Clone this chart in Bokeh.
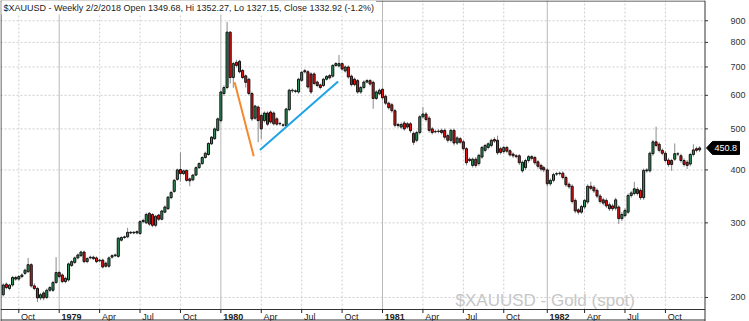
import math
import pandas as pd
from bokeh.plotting import figure
from bokeh.models import Range1d, Label, ColumnDataSource, Span
from bokeh.embed import file_html
from bokeh.resources import INLINE
from bokeh.core.properties import value, field

# ---------------- data (weekly bars) ----------------
first_week = "1978-09-01"
opens = [203, 215, 210, 214, 223, 221, 224, 228, 230, 239, 213, 210, 199.5, 205, 200, 208, 208, 217,
         229, 226, 218, 220, 238, 242, 248, 251, 256, 243, 248, 249, 248,
         244, 245, 241, 237, 249, 251, 250, 273, 277, 278, 285, 284, 284,
         283, 302, 300, 316, 314, 296, 313, 306, 318, 324, 344, 356, 380,
         401, 392, 399, 381, 379, 389, 405, 414, 428, 435, 461, 474, 496,
         523, 606, 626, 846, 661, 718, 722, 687, 667, 655, 606, 530, 563,
         538, 523, 545, 548, 545, 528, 515, 510, 509, 555, 617, 613, 611,
         651, 686, 682, 674, 674, 645, 635, 633, 655, 668, 666, 706, 704,
         713, 685, 700, 666, 655, 650, 611, 626, 645, 650, 644, 590, 605,
         620, 597, 575, 570, 552, 512, 505, 516, 514, 514, 488, 470, 490,
         534, 542, 530, 500, 493, 493, 496, 496, 482, 470, 496, 463, 474,
         466, 449, 424, 410, 424, 414, 429, 445, 452, 457, 472, 470, 449,
         442, 452, 444, 436, 432, 432, 398, 405, 421, 430, 428, 418, 410,
         405, 400, 371, 378, 391, 392, 393, 384, 370, 366, 339, 322, 318,
         327, 336, 366, 364, 358, 347, 340, 339, 331, 329, 325, 327, 307,
         312, 318, 348, 352, 360, 358, 344, 398, 398, 437, 466, 460, 445,
         438, 422, 421, 424, 436, 432, 421, 417, 413, 435, 449, 446]
highs = [216, 217, 215, 225, 225, 226, 228, 234, 248, 241, 216, 212, 205, 207, 210, 213, 219, 249,
         231, 228, 224, 242, 245, 250, 254, 258, 258, 249, 251, 251, 250,
         247, 247, 243, 250, 253, 254, 278, 279, 280, 292, 287, 287, 288,
         304, 307, 317, 318, 316, 313, 315, 322, 330, 347, 357, 381, 403,
         440, 401, 401, 384, 391, 408, 417, 431, 442, 465, 481, 504, 532,
         615, 634, 895, 850, 720, 728, 728, 692, 672, 660, 612, 570, 568,
         543, 550, 550, 553, 550, 533, 520, 515, 561, 622, 623, 620, 660,
         686, 693, 688, 680, 680, 650, 640, 660, 670, 674, 711, 719, 747,
         718, 706, 706, 672, 661, 656, 632, 651, 656, 656, 650, 617, 623,
         626, 603, 580, 576, 558, 517, 518, 522, 519, 519, 493, 495, 539,
         563, 548, 536, 505, 498, 499, 501, 501, 487, 501, 501, 481, 479,
         471, 453, 428, 428, 429, 437, 456, 461, 465, 474, 478, 482, 454,
         456, 456, 448, 440, 436, 436, 421, 425, 434, 434, 432, 422, 414,
         409, 404, 382, 394, 396, 397, 397, 388, 374, 370, 343, 325, 331,
         342, 370, 375, 368, 362, 351, 344, 343, 335, 333, 344, 330, 318,
         325, 352, 357, 375, 364, 362, 403, 404, 442, 471, 506, 465, 450,
         443, 427, 425, 462, 441, 437, 426, 422, 439, 460, 454, 455]
lows = [201, 209, 208, 212, 219, 219, 222, 226, 229, 211, 208, 195, 197, 197, 198, 206, 206, 215,
        222, 216, 216, 218, 236, 240, 246, 249, 241, 241, 246, 245, 241,
        242, 234, 235, 235, 247, 249, 248, 271, 275, 276, 282, 282, 282,
        281, 299, 298, 295, 293, 293, 303, 304, 316, 322, 341, 353, 377,
        375, 389, 375, 366, 376, 387, 402, 411, 425, 432, 458, 471, 493,
        518, 598, 620, 640, 625, 698, 676, 655, 626, 600, 522, 525, 465,
        473, 518, 508, 514, 509, 508, 509, 505, 505, 550, 608, 607, 605,
        645, 676, 622, 605, 634, 627, 620, 628, 650, 654, 660, 700, 698,
        686, 679, 657, 630, 630, 605, 605, 620, 640, 632, 558, 585, 600,
        586, 569, 555, 546, 504, 503, 500, 495, 500, 489, 458, 465, 485,
        528, 520, 490, 485, 488, 488, 485, 472, 464, 465, 457, 458, 460,
        444, 410, 417, 405, 405, 409, 425, 440, 447, 452, 463, 434, 435,
        437, 438, 430, 427, 426, 411, 394, 400, 416, 421, 411, 403, 397,
        395, 366, 367, 374, 387, 388, 380, 365, 361, 333, 316, 314, 315,
        323, 332, 358, 353, 343, 333, 330, 325, 320, 320, 321, 298, 303,
        309, 315, 344, 348, 348, 340, 340, 394, 394, 432, 452, 440, 433,
        416, 407, 398, 420, 431, 416, 407, 402, 408, 430, 440, 441]
closes = [214, 211, 214, 223, 221, 224, 226, 232, 239, 213, 210, 199.5, 203, 199.5, 208, 211, 217, 229,
          224, 218, 222, 240, 243, 248, 252, 256, 243, 247, 249, 247, 243,
          245, 236, 237, 248, 251, 252, 276, 277, 278, 285, 284, 285, 286,
          302, 304, 314, 298, 296, 311, 306, 320, 327, 345, 354, 378, 400,
          392, 398, 378, 377, 389, 405, 414, 428, 438, 462, 478, 500, 528,
          611, 626, 846, 661, 713, 706, 682, 661, 644, 606, 528, 566, 523,
          500, 545, 513, 519, 514, 513, 514, 511, 557, 617, 615, 615, 655,
          680, 682, 628, 611, 640, 633, 626, 655, 665, 660, 706, 713, 713,
          692, 700, 663, 636, 636, 611, 626, 645, 650, 638, 590, 611, 617,
          592, 575, 561, 552, 510, 509, 512, 500, 505, 495, 465, 490, 534,
          542, 526, 496, 490, 492, 494, 490, 478, 470, 496, 463, 476, 465,
          449, 416, 421, 424, 410, 433, 452, 457, 461, 470, 468, 439, 440,
          452, 443, 434, 432, 430, 416, 417, 421, 430, 426, 416, 408, 402,
          400, 371, 378, 390, 392, 393, 384, 369, 365, 337, 320, 318, 328,
          339, 366, 362, 357, 347, 337, 334, 329, 324, 324, 340, 307, 314,
          321, 348, 353, 361, 352, 344, 399, 400, 438, 466, 457, 445, 438,
          421, 412, 412, 437, 436.5, 421, 412, 410, 435, 446, 445, 450.8]

tick_labels = ["Oct", "1979", "Apr", "Jul", "Oct", "1980", "Apr", "Jul", "Oct",
               "1981", "Apr", "Jul", "Oct", "1982", "Apr", "Jul", "Oct"]
price_ticks = [200, 300, 400, 500, 600, 700, 800, 900]
price_labels = ["200", "300", "400", "500", "600", "700", "800", "900"]

orange_dates = ["1980-02-04", "1980-03-18"]
orange_prices = [644, 431]
blue_dates = ["1980-04-01", "1980-09-24"]
blue_prices = [446, 647]

title_text = "$XAUUSD - Weekly 2/2/2018 Open 1349.68, Hi 1352.27, Lo 1327.15, Close 1332.92 (-1.2%)"
watermark_text = "$XAUUSD - Gold (spot)"

# ---------------- dates ----------------
dates = []
for d in pd.date_range(first_week, periods=len(closes), freq="7D"):
    # the week of the New Year holiday 1982 is dated on the Thursday before
    dates.append(pd.Timestamp("1981-12-31") if d == pd.Timestamp("1982-01-01") else d)

tick_dates = [d for i, d in enumerate(dates)
              if d.month in (1, 4, 7, 10) and (i == 0 or dates[i - 1].month != d.month)]

# ---------------- layout helpers ----------------
FONT = "Liberation Sans"
W, H = 749, 321
PX_PER_DAY = 0.4441
X_ORIGIN = pd.Timestamp("1978-10-06") - pd.Timedelta(days=18.3 / PX_PER_DAY)
Y_TOP, Y_BOTTOM = 1004.7, 175.5
DAY_MS = 86400000.0
CHART_RIGHT = 704.5      # pixel column of the price scale line
BAND_TOP = 309           # pixel row separating the date band


def x_at(px):
    return X_ORIGIN + pd.Timedelta(days=px / PX_PER_DAY)


def at_px(py):
    """price value found py pixels below the top of the canvas (log scale)"""
    return Y_TOP * (Y_BOTTOM / Y_TOP) ** (py / H)


def px_of(v):
    return H * math.log(Y_TOP / v) / math.log(Y_TOP / Y_BOTTOM)


p = figure(width=W, height=H, x_axis_type="datetime", y_axis_type="log",
           x_axis_location=None, y_axis_location=None,
           x_range=Range1d(x_at(0), x_at(W)), y_range=Range1d(Y_BOTTOM, Y_TOP),
           min_border_left=0, min_border_top=0, min_border_bottom=0, min_border_right=0,
           toolbar_location=None, output_backend="svg")
p.background_fill_color = "white"
p.border_fill_color = "white"
p.outline_line_color = None
p.xgrid.visible = False
p.ygrid.visible = False

xl, xr = x_at(0), x_at(CHART_RIGHT)
band_top = at_px(BAND_TOP)

# horizontal dashed grid
n = len(price_ticks)
p.segment(x0=[xl] * n, y0=price_ticks, x1=[xr] * n, y1=price_ticks,
          line_color="#cfcfcf", line_dash="2 2", line_width=1)

# vertical grid
year_ticks = [d for d in tick_dates if d.month == 1]
quarter_ticks = [d for d in tick_dates if d.month != 1]
p.segment(x0=quarter_ticks, y0=[band_top] * len(quarter_ticks), x1=quarter_ticks,
          y1=[Y_TOP] * len(quarter_ticks), line_color="#cfcfcf", line_dash="2 2", line_width=1)
p.segment(x0=year_ticks, y0=[band_top] * len(year_ticks), x1=year_ticks,
          y1=[Y_TOP] * len(year_ticks), line_color="#b8b8b8", line_width=1)

# watermark
p.add_layout(Label(x=455, y=H - 300, x_units="screen", y_units="screen",
                   text=watermark_text, text_font=FONT, text_font_size="17px",
                   text_color="#c6c6c6", text_baseline="alphabetic", level="underlay"))

# frame lines
p.segment(x0=[xl, xl, xl], y0=[at_px(0.5), band_top, at_px(H - 1.5)],
          x1=[xr, xr, xr], y1=[at_px(0.5), band_top, at_px(H - 1.5)],
          line_color="#333333", line_width=1)
p.segment(x0=[x_at(0.5), x_at(CHART_RIGHT)], y0=[Y_BOTTOM, Y_BOTTOM],
          x1=[x_at(0.5), x_at(CHART_RIGHT)], y1=[Y_TOP, Y_TOP],
          line_color="#333333", line_width=1)

# date band
p.segment(x0=tick_dates, y0=[band_top] * len(tick_dates), x1=tick_dates,
          y1=[at_px(312.5)] * len(tick_dates), line_color="#222222", line_width=1)
label_src = ColumnDataSource(dict(
    x=[d + pd.Timedelta(days=2.3 / PX_PER_DAY) for d in tick_dates],
    y=[at_px(316.8)] * len(tick_dates),
    text=tick_labels,
    style=["bold" if t.isdigit() else "normal" for t in tick_labels]))
p.text(x="x", y="y", text="text", source=label_src, text_font=value(FONT),
       text_font_size="9px", text_font_style=field("style"), text_color="#222222",
       text_baseline="alphabetic", text_align="left")

# price scale on the right
p.segment(x0=[x_at(CHART_RIGHT)] * n, y0=price_ticks, x1=[x_at(CHART_RIGHT + 3)] * n,
          y1=price_ticks, line_color="#333333", line_width=1)
p.text(x=[x_at(730)] * n, y=price_ticks, text=price_labels, text_font=value(FONT),
       text_font_size="9px", text_color="#333333", text_baseline="middle", text_align="left")

# candles
up = [c >= o for o, c in zip(opens, closes)]
src = ColumnDataSource(dict(
    date=dates, open=opens, high=highs, low=lows, close=closes,
    top=[max(o, c) for o, c in zip(opens, closes)],
    bottom=[min(o, c) for o, c in zip(opens, closes)],
    color=["#2f9a60" if u else "#f01010" for u in up]))
p.segment(x0="date", y0="low", x1="date", y1="high", source=src,
          line_color="#8a8a8a", line_width=1)
p.vbar(x="date", width=4.6 * DAY_MS, top="top", bottom="bottom", source=src,
       fill_color="color", line_color="#111111", line_width=1)

# trend lines
p.line(x=[pd.Timestamp(d) for d in orange_dates], y=orange_prices, line_color="#f5892d", line_width=2)
p.line(x=[pd.Timestamp(d) for d in blue_dates], y=blue_prices, line_color="#1fa3e6", line_width=2)

# last price tag
last = closes[-1]
py = px_of(last)
hi, lo = at_px(py - 6.5), at_px(py + 6.5)
p.patch(x=[x_at(706), x_at(712), x_at(739), x_at(739), x_at(712)],
        y=[last, hi, hi, lo, lo], fill_color="black", line_color="black")
p.text(x=[x_at(714)], y=[last], text=["%.1f" % last], text_font=value(FONT),
       text_font_size="9px", text_color="white", text_baseline="middle", text_align="left")

# title inside the chart
p.add_layout(Label(x=1, y=H, x_units="screen", y_units="screen", text=title_text,
                   text_font=FONT, text_font_size="9px", text_color="#222222",
                   text_baseline="top", background_fill_color="white", padding=2))

open("out.html", "w").write(file_html(p, INLINE))
